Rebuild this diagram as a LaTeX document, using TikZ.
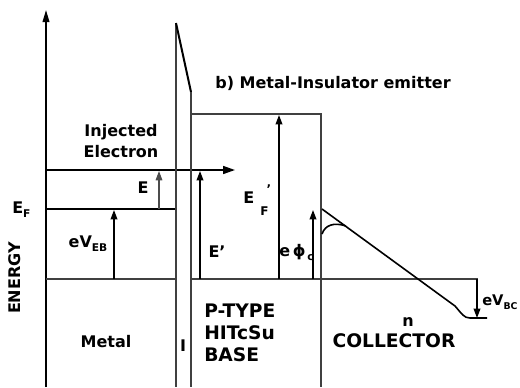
\documentclass[tikz,border=0pt]{standalone}
\usepackage{fontspec}
\setmainfont{DejaVu Sans}
\usetikzlibrary{arrows.meta}
\tikzset{
  lbl/.style={font=\bfseries\fontsize{12}{16}\selectfont, inner sep=0pt},
  big/.style={font=\bfseries\fontsize{14}{16.5}\selectfont, inner sep=0pt},
  band/.style={line width=1.1pt, black!75},
  solidline/.style={line width=1.2pt, black},
  uparrow/.style={line width=1.1pt, black, -{Triangle[length=7pt,width=5pt]}},
  thinarrow/.style={line width=0.8pt, black!70, -{Triangle[length=7pt,width=5pt]}},
}
\newcommand{\sbs}[1]{\raisebox{-3pt}{\fontsize{8}{9}\selectfont #1}}
\newcommand{\sbt}[1]{\raisebox{-3pt}{\fontsize{7}{8}\selectfont #1}}
\begin{document}
\begin{tikzpicture}[x=0.75pt,y=-0.75pt]
\useasboundingbox (0,0) rectangle (520,387);
% coordinates
\coordinate (axb) at (46,387);
\coordinate (axt) at (46,10);
\coordinate (elA) at (46,170);
\coordinate (elB) at (235,170);
\coordinate (efL) at (46,209);
\coordinate (efR) at (176,209);
\coordinate (fl1) at (46,279);
\coordinate (fl2) at (176,279);
\coordinate (fl3) at (191,279);
\coordinate (fl4) at (478,279);
\coordinate (iLt) at (176,23);
\coordinate (iLb) at (176,387);
\coordinate (iRt) at (191,92);
\coordinate (iRb) at (191,387);
\coordinate (bTL) at (191,114);
\coordinate (bTR) at (321,114);
\coordinate (bBR) at (321,387);
% axis
\draw[solidline, -{Triangle[length=9pt,width=5pt]}] (axb) -- (axt);
% injected electron
\draw[solidline, -{Triangle[length=9pt,width=6pt]}] (elA) -- (elB);
% metal fermi level
\draw[solidline] (efL) -- (efR);
% base fermi level
\draw[band] (fl1) -- (fl2);
\draw[band] (fl3) -- (fl4);
% insulator
\draw[band] (iLt) -- (iLb);
\draw[line width=1.5pt] (iLt) -- (iRt);
\draw[band] (iRt) -- (iRb);
% base
\draw[band] (bTL) -- (bTR) -- (bBR);
% collector band
\coordinate (c0) at (322,209);
\coordinate (c1) at (455,306);
\coordinate (c2) at (470,318);
\coordinate (c3) at (487,318);
\draw[solidline] (c0) -- (c1) .. controls (462,314) and (464,318) .. (c2) -- (c3);
\coordinate (k0) at (322,234);
\coordinate (k1) at (346,226);
\draw[solidline] (k0) .. controls (325,225) and (334,222) .. (k1);
% vertical arrows
\coordinate (aEB0) at (114,279); \coordinate (aEB1) at (114,210);
\draw[uparrow] (aEB0) -- (aEB1);
\coordinate (aE0) at (159,209); \coordinate (aE1) at (159,171);
\draw[thinarrow] (aE0) -- (aE1);
\coordinate (aEp0) at (200,279); \coordinate (aEp1) at (200,171);
\draw[uparrow] (aEp0) -- (aEp1);
\coordinate (aEF0) at (279,279); \coordinate (aEF1) at (279,115);
\draw[uparrow] (aEF0) -- (aEF1);
\coordinate (aphi0) at (313,279); \coordinate (aphi1) at (313,210);
\draw[uparrow] (aphi0) -- (aphi1);
\coordinate (aBC0) at (477,279); \coordinate (aBC1) at (477,318);
\draw[uparrow] (aBC0) -- (aBC1);
% labels
\node[lbl] (title) at (333,83) {b) Metal-Insulator emitter};
\node[lbl, align=center] (inj) at (121,141) {Injected\\Electron};
\node[lbl, anchor=west] (ef) at (12,210) {E\sbs{F}};
\node[lbl, rotate=90] (energy) at (15,278) {ENERGY};
\node[lbl] (veb) at (88,244) {eV\sbs{EB}};
\node[lbl] (e) at (143,188) {E};
\node[lbl] (ep) at (217,252) {E'};
\node[lbl, anchor=west] (efp) at (243,200) {E\rlap{\raisebox{-9pt}{\fontsize{9}{9}\selectfont\ \,F}}\raisebox{7pt}{\fontsize{9}{9}\selectfont\ \ \ '}};
\node[lbl, anchor=west] (phi) at (279,252) {e\,ϕ\sbs{\,c}};
\node[lbl] (metal) at (106,342) {Metal};
\node[lbl] (ins) at (183,346) {I};
\node[big, anchor=west, align=left] (base) at (204,333) {P-TYPE\\HITcSu\\BASE};
\node[lbl] (n) at (408,322) {n};
\node[big] (coll) at (394,341) {COLLECTOR};
\node[font=\bfseries\fontsize{11}{14}\selectfont, inner sep=0pt, anchor=west] (vbc) at (482,302) {eV\sbt{BC}};
\end{tikzpicture}
\end{document}
